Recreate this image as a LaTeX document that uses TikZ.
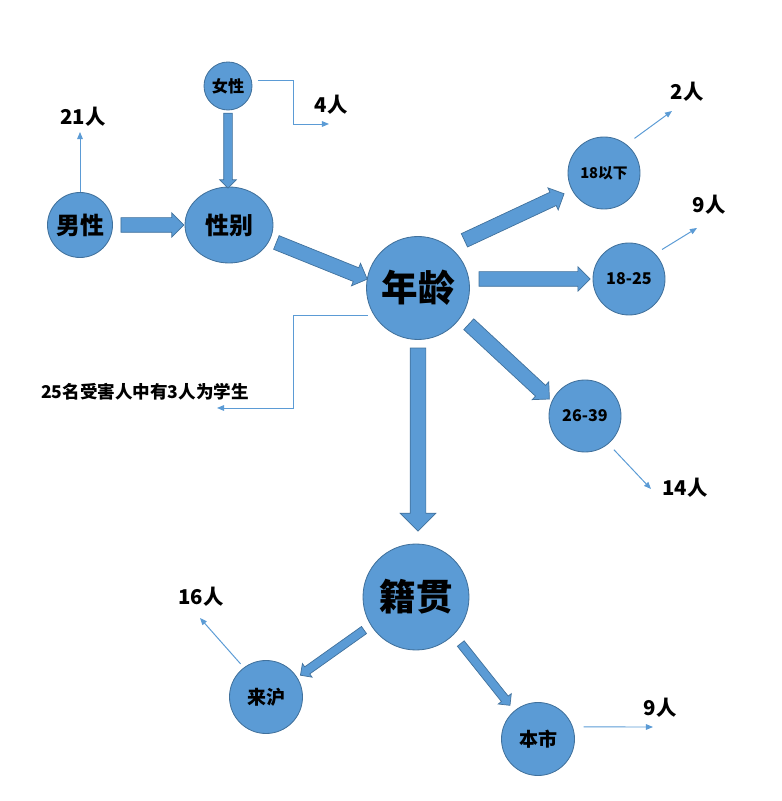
\documentclass[tikz,border=0pt]{standalone}
\usepackage{fontspec}
\setmainfont{Noto Sans CJK SC}
\usepackage{tikz}
\usetikzlibrary{shapes.arrows,shapes.geometric,arrows.meta}
\definecolor{bubblecol}{HTML}{5B9BD5}
\definecolor{rimcol}{HTML}{41719C}

\begin{document}
\begin{tikzpicture}[
    bubble/.style={circle, draw=rimcol, fill=bubblecol, line width=0.6pt, inner sep=0pt, text=black},
    fat/.style={single arrow, draw=rimcol, fill=bubblecol, line width=0.5pt, sloped, allow upside down,
        inner xsep=0pt, inner ysep=0.175cm, minimum width=0pt, single arrow head extend=0.12cm},
    slim/.style={fat, inner ysep=0.1cm, single arrow head extend=0.1cm},
    pointer/.style={draw=bubblecol, line width=0.7pt, -{Triangle[length=5pt,width=4pt]}},
    tally/.style={font=\bfseries\fontsize{14.5}{16}\selectfont}
]
\useasboundingbox (0,0) rectangle (19.55,20.025);

    % gender
    \node[bubble, minimum size=1.625cm, font=\bfseries\fontsize{17}{20}\selectfont] (nanxing) at (2,14.4) {男性};
    \node[bubble, ellipse, minimum width=2.2cm, minimum height=1.9cm, font=\bfseries\fontsize{17}{20}\selectfont] (xingbie) at (5.725,14.4) {性别};
    \node[bubble, minimum size=1.2cm, font=\bfseries\fontsize{11.5}{13}\selectfont] (nvxing) at (5.7,17.875) {女性};

    % age
    \node[bubble, minimum size=2.575cm, font=\bfseries\fontsize{26}{30}\selectfont] (age) at (10.45,12.825) {年龄};
    \node[bubble, minimum size=1.8cm, font=\bfseries\fontsize{10.5}{12}\selectfont] (a18) at (15.1,15.7) {18以下};
    \node[bubble, minimum size=1.8cm, font=\bfseries\fontsize{11.5}{13}\selectfont] (d1825) at (15.725,13.05) {18-25};
    \node[bubble, minimum size=1.8cm, font=\bfseries\fontsize{11.5}{13}\selectfont] (d2639) at (14.625,9.625) {26-39};

    % origin
    \node[bubble, minimum size=2.65cm, font=\bfseries\fontsize{26}{30}\selectfont] (jiguan) at (10.4,5.1) {籍贯};
    \node[bubble, minimum size=1.825cm, font=\bfseries\fontsize{13.5}{15}\selectfont] (laihu) at (6.65,2.6) {来沪};
    \node[bubble, minimum size=1.825cm, font=\bfseries\fontsize{13.5}{15}\selectfont] (benshi) at (13.45,1.55) {本市};

    % counts
    \node[tally] (n21) at (2.075,17.1) {21人};
    \node[tally] (n4) at (8.275,17.4) {4人};
    \node[tally] (n2) at (17.175,17.725) {2人};
    \node[tally] (n9a) at (17.725,14.9) {9人};
    \node[tally] (n14) at (17.125,7.825) {14人};
    \node[tally] (n16) at (5.025,5.1) {16人};
    \node[tally] (n9b) at (16.5,2.325) {9人};
    \node[font=\bfseries\fontsize{12.5}{14}\selectfont] (student) at (3.625,10.225) {25名受害人中有3人为学生};

    \coordinate (p21) at (2,16.725);
    \coordinate (k4) at (7.325,16.925);
    \coordinate (p4) at (8.225,16.925);
    \coordinate (p2) at (16.8,17.25);
    \coordinate (p9a) at (17.425,14.325);
    \coordinate (p14) at (16.275,7.8);
    \coordinate (k25) at (7.325,9.825);
    \coordinate (p25) at (5.425,9.825);
    \coordinate (p16) at (5,4.575);
    \coordinate (p9b) at (16.325,1.85);

    % block arrows
    \path (nanxing.east) -- node[fat, minimum height=1.575cm] {} (xingbie.west);
    \path (nvxing.south) -- node[slim, minimum height=1.875cm] {} (nvxing.south |- xingbie.north);
    \path (xingbie.-20) -- node[fat, minimum height=2.45cm] {} (age.170);
    \path (age.52) -- node[fat, minimum height=2.75cm] {} (a18.208);
    \path (age.10) -- node[fat, minimum height=2.775cm] {} (d1825.180);
    \path (age.-34) -- node[fat, minimum height=2.75cm] {} (d2639.156);
    \path (age.south) -- node[pos=.47, fat, inner ysep=0.1875cm, single arrow head extend=0.25cm, minimum height=4.575cm] {} (age.south |- jiguan.north);
    \path (jiguan.212) -- node[slim, minimum height=1.95cm] {} (laihu.32);
    \path (jiguan.-45) -- node[slim, minimum height=1.975cm] {} (benshi.130);

    % thin pointers
    \draw[pointer] (nanxing.north) -- (p21);
    \draw[pointer, shorten <=0.15cm] (nvxing.14) -| (k4) -- (p4);
    \draw[pointer, shorten <=0.25cm] (a18.52) -- (p2);
    \draw[pointer, shorten <=0.2cm] (d1825.44) -- (p9a);
    \draw[pointer, shorten <=0.2cm] (d2639.-50) -- (p14);
    \draw[pointer, shorten <=0.15cm] (age.212) -| (k25) -- (p25);
    \draw[pointer, shorten <=0.12cm] (laihu.127) -- (p16);
    \draw[pointer, shorten <=0.27cm] (benshi.19) -- (p9b);

\end{tikzpicture}
\end{document}
